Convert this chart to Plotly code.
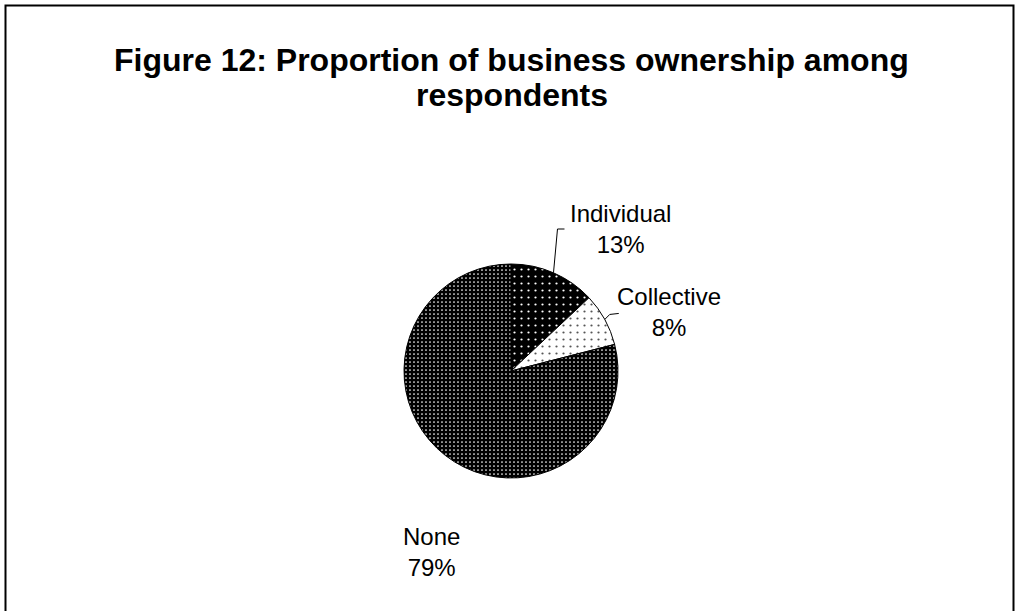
import math
import plotly.graph_objects as go

# Survey results: business ownership among respondents
categories = ["Individual", "Collective", "None"]
shares = [13, 8, 79]
title_lines = ["Figure 12: Proportion of business ownership among", "respondents"]

W, H = 1015, 611
CX, CY, R = 511, 371, 107  # pie centre and radius in pixels


def px(x):
    return x / W


def py(y):
    return 1 - y / H


fig = go.Figure()

fig.add_trace(go.Pie(
    labels=categories,
    values=shares,
    sort=False,
    direction="clockwise",
    rotation=0,
    textinfo="none",
    hoverinfo="label+percent",
    domain=dict(x=[px(CX - R), px(CX + R)], y=[py(CY + R), py(CY - R)]),
    marker=dict(
        colors=["black", "white", "black"],
        line=dict(color="black", width=1),
        pattern=dict(
            shape=[".", ".", "."],
            fgcolor=["white", "#555555", "white"],
            bgcolor=["black", "white", "black"],
            size=[7, 7, 4],
            solidity=[0.08, 0.08, 0.15],
            fillmode="replace",
        ),
    ),
))

# Slice mid-angles (degrees clockwise from 12 o'clock)
total = sum(shares)
mids = []
acc = 0
for v in shares:
    mids.append((acc + v / 2) / total * 360)
    acc += v


def edge_point(angle):
    a = math.radians(angle)
    return CX + R * math.sin(a), CY - R * math.cos(a)


label_font = dict(family="Liberation Sans, Arial, sans-serif", size=24, color="black")
label_pos = [(620, 229), (669, 312), (431, 552)]

annotations = []
for name, v, (lx, ly) in zip(categories, shares, label_pos):
    annotations.append(dict(
        x=px(lx), y=py(ly), xref="paper", yref="paper",
        text=f"{name}<br>{round(v / total * 100)}%",
        showarrow=False, font=label_font,
        xanchor="center", yanchor="middle", align="center",
    ))

# Two-line bold title
title_font = dict(family="Liberation Sans, Arial, sans-serif", size=32, color="black")
for line, ty in zip(title_lines, [60, 95]):
    annotations.append(dict(
        x=px(512), y=py(ty), xref="paper", yref="paper",
        text=f"<b>{line}</b>",
        showarrow=False, font=title_font,
        xanchor="center", yanchor="middle", align="center",
    ))

shapes = []
# Leader lines for the two small slices
ex, ey = edge_point(mids[0])
path = f"M {px(ex)} {py(ey)} L {px(ex + 4)} {py(229)} L {px(ex + 11)} {py(229)}"
shapes.append(dict(type="path", xref="paper", yref="paper", path=path,
                   line=dict(color="black", width=1)))
ex, ey = edge_point(mids[1])
path = f"M {px(ex)} {py(ey)} L {px(ex + 5)} {py(ey - 5)} L {px(ex + 14)} {py(ey - 6)}"
shapes.append(dict(type="path", xref="paper", yref="paper", path=path,
                   line=dict(color="black", width=1)))

# Chart frame
shapes.append(dict(type="rect", xref="paper", yref="paper",
                   x0=px(5.5), x1=px(1013.5), y0=-0.05, y1=py(5.5),
                   line=dict(color="black", width=2), fillcolor="rgba(0,0,0,0)"))

fig.update_layout(
    width=W, height=H,
    margin=dict(l=0, r=0, t=0, b=0),
    paper_bgcolor="white",
    plot_bgcolor="white",
    showlegend=False,
    annotations=annotations,
    shapes=shapes,
)

fig.write_html("out.html")
